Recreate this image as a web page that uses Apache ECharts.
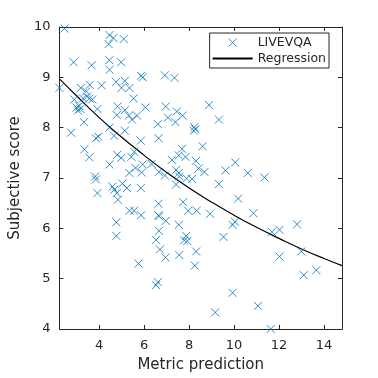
<!DOCTYPE html>
<html><head><meta charset="utf-8">
<script src="https://cdn.jsdelivr.net/npm/echarts@6/dist/echarts.min.js"></script>
<style>html,body{margin:0;padding:0;background:#fff}#c{width:378px;height:378px}</style>
</head><body><div id="c"></div>
<script>
// Scatter data: metric prediction (x) and subjective score (y)
var metricPred = [2.46,4.46,4.63,4.42,5.09,2.86,3.66,4.45,4.98,4.46,5.86,5.94,6.92,7.35,2.23,3.18,3.42,3.58,4.11,4.75,4.99,5.14,5.35,2.89,3.28,3.46,3.56,3.69,5.53,2.99,3.11,3.05,3.16,3.92,4.82,4.78,5.14,5.32,5.46,5.68,6.06,6.61,3.32,6.96,7.45,7.71,7.06,7.39,8.89,9.32,8.23,8.28,8.21,2.75,4.45,4.66,5.14,3.85,3.96,5.85,6.64,3.34,3.56,4.80,4.98,5.56,5.43,4.46,5.93,6.33,5.34,5.61,5.89,6.65,7.68,8.60,7.54,7.84,7.23,8.30,10.05,7.42,7.54,8.42,8.68,9.62,10.61,11.35,6.92,7.89,8.13,7.56,7.42,9.32,3.82,3.85,3.92,4.59,4.68,4.78,4.83,5.03,5.23,5.85,6.64,5.35,5.55,5.86,6.63,6.67,4.76,4.76,6.66,6.53,6.70,6.95,5.75,6.61,6.53,7.73,7.96,8.33,8.93,10.18,10.86,6.96,7.54,10.04,9.93,7.87,7.78,7.92,9.53,7.56,8.31,8.25,9.93,9.16,11.06,11.63,11.68,12.02,12.80,12.02,12.99,13.10,13.66];
var subjScore = [9.97,9.84,9.78,9.66,9.76,9.30,9.24,9.34,9.30,9.15,9.03,9.00,9.04,8.99,8.79,8.79,8.72,8.85,8.84,8.91,8.79,8.93,8.79,8.56,8.58,8.62,8.58,8.56,8.58,8.40,8.43,8.34,8.37,8.37,8.42,8.25,8.35,8.24,8.16,8.24,8.40,8.07,8.11,8.42,8.32,8.24,8.20,8.11,8.45,8.16,8.01,7.97,7.94,7.90,8.00,7.84,7.94,7.79,7.82,7.74,7.79,7.57,7.41,7.46,7.40,7.52,7.42,7.27,7.27,7.28,7.10,7.20,7.11,7.12,7.58,7.63,7.45,7.42,7.36,7.34,7.31,7.16,7.10,7.19,7.12,7.15,7.10,7.01,7.05,6.99,6.98,7.03,6.87,6.88,7.03,6.97,6.70,6.83,6.77,6.70,6.57,6.89,6.80,6.80,6.49,6.35,6.35,6.26,6.26,6.24,6.12,5.85,5.95,5.77,5.58,5.42,5.30,4.93,4.87,6.52,6.35,6.35,6.29,6.59,6.30,6.15,6.07,6.13,6.07,5.85,5.76,5.75,5.83,5.47,5.54,5.26,4.72,4.33,4.46,4.00,5.93,5.97,6.08,5.44,5.54,5.07,5.17];
// Regression curve
var regX = [2.23,3,4,5,6,7,8,9,10,11,12,13,14,14.8];
var regY = [8.97,8.63,8.20,7.81,7.45,7.11,6.80,6.52,6.26,6.02,5.80,5.59,5.40,5.26];
var xTicks = [4,6,8,10,12,14];
var seriesNames = ['LIVEVQA','Regression'];

var scatterData = metricPred.map(function(v,i){return [v, subjScore[i]];});
var lineData = regX.map(function(v,i){return [v, regY[i]];});
var axisCol = '#262626';
var blue = '#0072BD';
var xPath = 'path://M0,0L10,10M10,0L0,10';
var font = 'DejaVu Sans';
var chart = echarts.init(document.getElementById('c'));
var baseX = {type:'value', min:2.23, max:14.8,
  axisLine:{show:true,onZero:false,lineStyle:{color:axisCol,width:1}},
  axisTick:{show:true,inside:true,length:4,customValues:xTicks,lineStyle:{color:axisCol}},
  splitLine:{show:false}};
var baseY = {type:'value', min:4, max:10, interval:1,
  axisLine:{show:true,onZero:false,lineStyle:{color:axisCol,width:1}},
  axisTick:{show:true,inside:true,length:4,lineStyle:{color:axisCol}},
  splitLine:{show:false}};
chart.setOption({
  animation:false,
  backgroundColor:'#fff',
  grid:{left:49,right:36,top:27,bottom:42,containLabel:false},
  xAxis:[
    Object.assign({}, baseX, {position:'bottom', name:'Metric prediction', nameLocation:'middle', nameGap:29,
      nameTextStyle:{color:axisCol,fontSize:15,fontFamily:font},
      axisLabel:{customValues:xTicks,color:axisCol,fontSize:13,fontFamily:font,margin:10}}),
    Object.assign({}, baseX, {position:'top', axisLabel:{show:false}})
  ],
  yAxis:[
    Object.assign({}, baseY, {position:'left', name:'Subjective score', nameLocation:'middle', nameGap:29,
      nameTextStyle:{color:axisCol,fontSize:15,fontFamily:font},
      axisLabel:{color:axisCol,fontSize:13,fontFamily:font,margin:9}}),
    Object.assign({}, baseY, {position:'right', axisLabel:{show:false}})
  ],
  legend:{
    orient:'vertical', right:49, top:33, itemWidth:40, itemHeight:8, itemGap:3,
    padding:[3,3,3,2], borderColor:axisCol, borderWidth:1, backgroundColor:'#fff',
    textStyle:{color:axisCol,fontSize:12.5,fontFamily:font},
    data:[
      {name:seriesNames[0], icon:xPath, itemStyle:{color:'rgba(0,0,0,0)', borderColor:blue, borderWidth:1}},
      {name:seriesNames[1], itemStyle:{opacity:0}}
    ]
  },
  series:[
    {name:seriesNames[0], type:'scatter', data:scatterData, symbol:xPath, symbolSize:8,
      itemStyle:{color:'rgba(0,0,0,0)', borderColor:blue, borderWidth:1}},
    {name:seriesNames[1], type:'line', data:lineData, smooth:true, showSymbol:false, symbol:'none',
      lineStyle:{color:'#000', width:1.2}, itemStyle:{color:'#000'}, z:1}
  ]
});
</script></body></html>
